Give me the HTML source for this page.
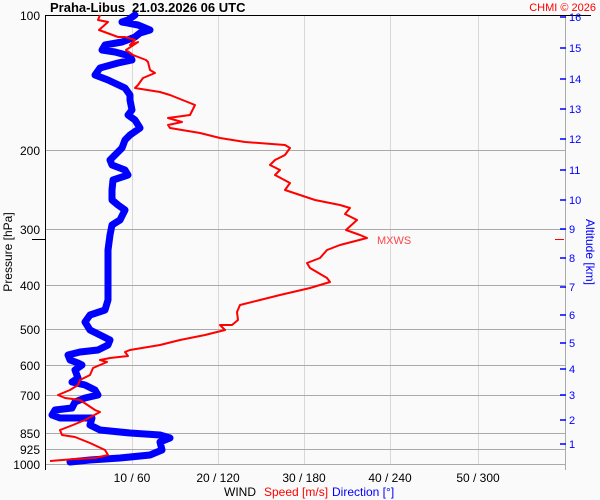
<!DOCTYPE html>
<html><head><meta charset="utf-8"><style>
body{margin:0;background:#fafafa;}
svg{display:block;font-family:"Liberation Sans",sans-serif;}
</style></head><body>
<svg width="600" height="500" viewBox="0 0 600 500">
<rect width="600" height="500" fill="#fafafa"/>
<g stroke="#d8d8d8" stroke-width="1">
<line x1="132.5" y1="15" x2="132.5" y2="465"/><line x1="218.5" y1="15" x2="218.5" y2="465"/><line x1="304.5" y1="15" x2="304.5" y2="465"/><line x1="390.5" y1="15" x2="390.5" y2="465"/><line x1="478.5" y1="15" x2="478.5" y2="465"/>
</g>
<g stroke="#aaa" stroke-width="1">
<line x1="45" y1="150.5" x2="565" y2="150.5"/><line x1="45" y1="229.5" x2="565" y2="229.5"/><line x1="45" y1="285.5" x2="565" y2="285.5"/><line x1="45" y1="329.5" x2="565" y2="329.5"/><line x1="45" y1="365.5" x2="565" y2="365.5"/><line x1="45" y1="395.5" x2="565" y2="395.5"/><line x1="45" y1="433.5" x2="565" y2="433.5"/><line x1="45" y1="449.5" x2="565" y2="449.5"/><line x1="45" y1="464.5" x2="565" y2="464.5"/>
<line x1="565.5" y1="15" x2="565.5" y2="470"/>
</g>
<line x1="45" y1="15.5" x2="591" y2="15.5" stroke="#000"/>
<line x1="45.5" y1="15" x2="45.5" y2="470" stroke="#000"/>
<line x1="32" y1="239.5" x2="45" y2="239.5" stroke="#000"/>
<g font-size="12" fill="#000" text-anchor="end">
<text x="40" y="20">100</text><text x="40" y="155">200</text><text x="40" y="234">300</text><text x="40" y="290">400</text><text x="40" y="334">500</text><text x="40" y="370">600</text><text x="40" y="400">700</text><text x="40" y="438">850</text><text x="40" y="454">925</text><text x="40" y="469">1000</text>
</g>
<text transform="translate(12,252) rotate(-90)" font-size="12" text-anchor="middle">Pressure [hPa]</text>
<g font-size="12" text-anchor="middle" fill="#000">
<text x="132" y="482">10 / 60</text><text x="218" y="482">20 / 120</text><text x="304" y="482">30 / 180</text><text x="390" y="482">40 / 240</text><text x="478" y="482">50 / 300</text>
</g>
<text x="224" y="496" font-size="12">WIND</text>
<text x="264" y="496" font-size="12" fill="#f00">Speed [m/s]</text>
<text x="332" y="496" font-size="12" fill="#00f">Direction [°]</text>
<text x="50" y="12" font-size="13" font-weight="bold">Praha-Libus</text>
<text x="132" y="12" font-size="13" font-weight="bold">21.03.2026 06 UTC</text>
<text x="596" y="11" font-size="11" fill="#f00" text-anchor="end">CHMI © 2026</text>
<g stroke="#00f" stroke-width="1.5">
<line x1="560" y1="17" x2="566" y2="17"/><line x1="560" y1="48" x2="566" y2="48"/><line x1="560" y1="79" x2="566" y2="79"/><line x1="560" y1="109" x2="566" y2="109"/><line x1="560" y1="139" x2="566" y2="139"/><line x1="560" y1="170" x2="566" y2="170"/><line x1="560" y1="200" x2="566" y2="200"/><line x1="560" y1="229" x2="566" y2="229"/><line x1="560" y1="258" x2="566" y2="258"/><line x1="560" y1="287" x2="566" y2="287"/><line x1="560" y1="315" x2="566" y2="315"/><line x1="560" y1="343" x2="566" y2="343"/><line x1="560" y1="369" x2="566" y2="369"/><line x1="560" y1="395" x2="566" y2="395"/><line x1="560" y1="420" x2="566" y2="420"/><line x1="560" y1="444" x2="566" y2="444"/>
</g>
<line x1="555" y1="239.5" x2="564" y2="239.5" stroke="#f00"/>
<g font-size="11" fill="#00f">
<text x="569" y="21">16</text><text x="569" y="52">15</text><text x="569" y="83">14</text><text x="569" y="113">13</text><text x="569" y="143">12</text><text x="569" y="174">11</text><text x="569" y="204">10</text><text x="569" y="233">9</text><text x="569" y="262">8</text><text x="569" y="291">7</text><text x="569" y="319">6</text><text x="569" y="347">5</text><text x="569" y="373">4</text><text x="569" y="399">3</text><text x="569" y="424">2</text><text x="569" y="448">1</text>
</g>
<text transform="translate(586,252) rotate(90)" font-size="12" fill="#00f" text-anchor="middle">Altitude [km]</text>
<text x="377" y="244" font-size="11" fill="#f44">MXWS</text>
<polyline fill="none" stroke="#00f" stroke-width="7" stroke-linejoin="round" stroke-linecap="round" points="135,15 128,20 122,22 138,25 150,30 140,33 135,37 122,42 105,45 102,50 115,52 130,56 132,60 118,63 100,68 95,75 108,80 125,88 130,95 130,100 132,110 128,115 135,120 140,128 130,135 125,140 122,148 115,155 110,160 112,165 125,170 128,175 113,180 112,190 112,200 118,205 125,210 120,220 112,225 110,235 108,250 108,270 108,300 105,310 90,315 85,322 90,330 100,335 110,340 108,345 98,350 80,352 68,355 70,360 78,363 82,365 75,370 78,378 72,382 85,385 95,390 98,395 85,398 75,402 72,408 55,410 52,415 60,418 92,418 90,425 100,430 130,433 160,435 170,438 160,442 162,450 150,455 120,458 90,460 70,462"/>
<polyline fill="none" stroke="#f00" stroke-width="2" stroke-linejoin="round" points="100,15 98,20 108,22 99,30 118,37 125,37 135,40 130,45 138,42 126,50 133,55 146,60 148,62 150,70 155,73 143,78 138,85 135,88 160,92 170,95 195,105 190,115 168,118 182,122 168,125 170,128 200,133 220,138 245,142 285,145 290,148 285,155 275,160 270,165 280,170 275,175 290,183 285,190 300,195 315,200 340,205 350,208 345,214 357,220 346,230 360,235 367,238 340,245 327,250 320,258 307,263 310,268 327,278 330,282 310,288 280,295 260,300 240,305 237,312 238,320 232,325 220,325 225,330 205,335 180,340 160,345 130,350 125,352 128,356 110,358 100,360 107,362 93,368 90,375 80,380 78,385 70,390 58,395 65,398 80,400 95,410 100,412 85,420 73,425 60,430 62,435 75,437 90,443 105,450 108,455 95,458 75,459 50,461"/>
</svg>
</body></html>
